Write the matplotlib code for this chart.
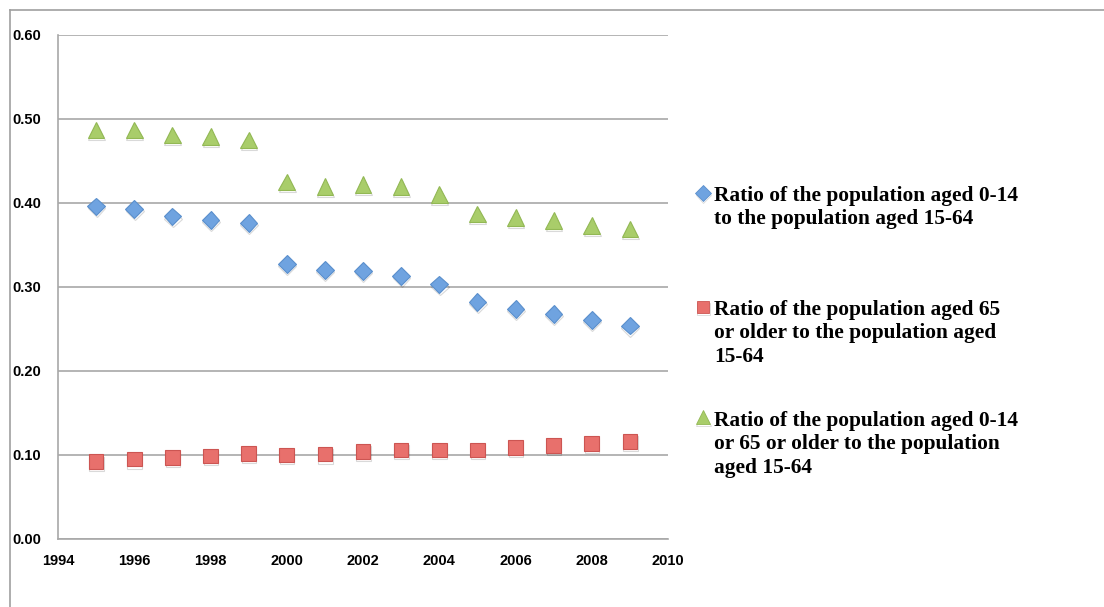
import numpy as np
import matplotlib
matplotlib.use('Agg')
import matplotlib.pyplot as plt
from matplotlib.lines import Line2D
import matplotlib.patheffects as pe

years = np.arange(1995, 2010)

# dependency ratios
young = [0.396, 0.393, 0.384, 0.380, 0.376, 0.327, 0.320, 0.319,
         0.313, 0.303, 0.282, 0.274, 0.268, 0.261, 0.254]
old = [0.092, 0.095, 0.097, 0.099, 0.102, 0.100, 0.101, 0.104,
       0.106, 0.106, 0.106, 0.109, 0.111, 0.114, 0.116]
total = [0.487, 0.487, 0.481, 0.479, 0.475, 0.425, 0.420, 0.422,
         0.420, 0.410, 0.387, 0.383, 0.379, 0.373, 0.369]

labels = ['Ratio of the population aged 0-14\nto the population aged 15-64',
          'Ratio of the population aged 65\nor older to the population aged\n15-64',
          'Ratio of the population aged 0-14\nor 65 or older to the population\naged 15-64']

xticks = [1994, 1996, 1998, 2000, 2002, 2004, 2006, 2008, 2010]
yticks = [0.0, 0.1, 0.2, 0.3, 0.4, 0.5, 0.6]

styles = [
    dict(marker='D', ms=9, mfc='#6fa3e0', mec='#5a8fcc'),
    dict(marker='s', ms=10.5, mfc='#e8706c', mec='#cc5552'),
    dict(marker='^', ms=12, mfc='#a9cd6a', mec='#92b854'),
]
shadow = [pe.SimpleLineShadow(offset=(0.3, -1.5), alpha=0.15, shadow_color='k'), pe.Normal()]

fig = plt.figure(figsize=(11.04, 6.07), dpi=100)
ax = fig.add_axes([58/1104, 68/607, 610/1104, 504/607])

for series, st in zip([young, old, total], styles):
    ax.plot(years, series, linestyle='none', mew=0.8, zorder=3,
            path_effects=shadow, **st)

ax.set_xlim(1994, 2010)
ax.set_ylim(0, 0.6)
ax.set_xticks(xticks)
ax.set_yticks(yticks)
ax.set_yticklabels(['%.2f' % v for v in yticks])
ax.yaxis.grid(True, color='#a8a8a8', linewidth=1.2)
ax.set_axisbelow(True)
ax.tick_params(length=0, labelsize=10.5)
ax.tick_params(axis='y', pad=12)
ax.tick_params(axis='x', pad=11)
for lab in ax.get_xticklabels() + ax.get_yticklabels():
    lab.set_fontweight('bold')
    lab.set_fontfamily('Liberation Sans')
for s in ['top', 'right']:
    ax.spines[s].set_visible(False)
for s in ['left', 'bottom']:
    ax.spines[s].set_color('#a8a8a8')
    ax.spines[s].set_linewidth(1.2)

# legend drawn by hand so keys sit on the first line of each label
key_y = [193, 307, 417]
top_y = [186, 300, 411]
for lab, st, ky, ty in zip(labels, styles, key_y, top_y):
    k = dict(st)
    k['ms'] = k['ms'] * 0.85
    fig.add_artist(Line2D([703/1104], [1 - ky/607], transform=fig.transFigure,
                          linestyle='none', mew=0.6, path_effects=shadow, **k))
    fig.text(714/1104, 1 - ty/607, lab, va='top', ha='left',
             family='Liberation Serif', fontweight='bold', fontsize=15.4,
             linespacing=1.23)

# outer frame
fig.add_artist(Line2D([10/1104, 10/1104], [0, 1 - 10/607], transform=fig.transFigure,
                      color='#a0a0a0', linewidth=1.2))
fig.add_artist(Line2D([10/1104, 1], [1 - 10/607, 1 - 10/607], transform=fig.transFigure,
                      color='#a0a0a0', linewidth=1.2))

fig.savefig('out.png', dpi=100)
